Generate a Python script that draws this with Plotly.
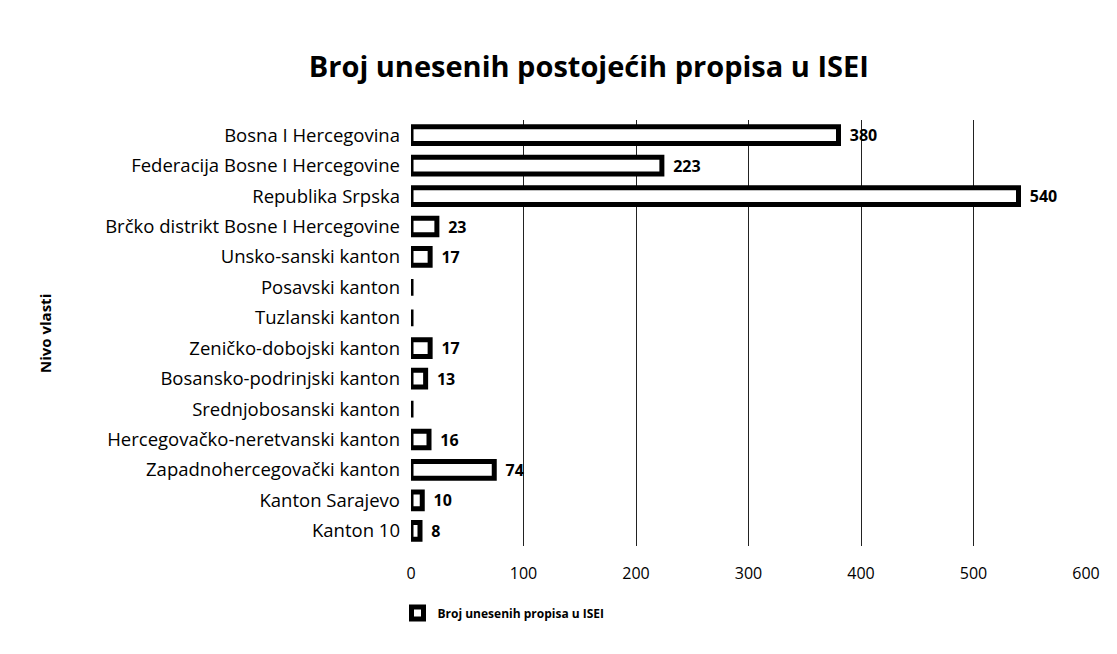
import plotly.graph_objects as go

categories = [
    "Bosna I Hercegovina",
    "Federacija Bosne I Hercegovine",
    "Republika Srpska",
    "Brčko distrikt Bosne I Hercegovine",
    "Unsko-sanski kanton",
    "Posavski kanton",
    "Tuzlanski kanton",
    "Zeničko-dobojski kanton",
    "Bosansko-podrinjski kanton",
    "Srednjobosanski kanton",
    "Hercegovačko-neretvanski kanton",
    "Zapadnohercegovački kanton",
    "Kanton Sarajevo",
    "Kanton 10",
]
values = [380, 223, 540, 23, 17, 0, 0, 17, 13, 0, 16, 74, 10, 8]
x_ticks = [0, 100, 200, 300, 400, 500, 600]

title_text = "Broj unesenih postojećih propisa u ISEI"
series_name = "Broj unesenih propisa u ISEI"
y_title = "Nivo vlasti"

labels = ["  " + str(v) if v else "" for v in values]

FONT = "Open Sans"

fig = go.Figure()
fig.add_trace(go.Bar(
    y=categories,
    x=values,
    orientation="h",
    name=series_name,
    marker=dict(color="white", line=dict(color="black", width=5)),
    text=labels,
    textposition="outside",
    constraintext="none",
    textfont=dict(family=FONT, size=16, color="black", weight="bold"),
    cliponaxis=False,
    showlegend=True,
))

fig.update_layout(
    width=1117,
    height=654,
    paper_bgcolor="white",
    plot_bgcolor="white",
    margin=dict(l=403, r=39, t=112, b=116),
    bargap=0.45,
    title=dict(
        text=title_text,
        font=dict(family=FONT, size=29, color="black", weight="bold"),
        x=0.52, xanchor="center", y=0.91, yanchor="middle",
    ),
    xaxis=dict(
        range=[0, 600],
        tickvals=x_ticks,
        showgrid=True,
        gridcolor="#222222",
        gridwidth=1,
        zeroline=False,
        showline=False,
        ticks="",
        ticklabelstandoff=16,
        tickfont=dict(family=FONT, size=16, color="black"),
    ),
    yaxis=dict(
        autorange="reversed",
        showgrid=False,
        showline=False,
        ticks="",
        ticklabelstandoff=10,
        tickfont=dict(family=FONT, size=18.5, color="black"),
    ),
    legend=dict(
        orientation="h",
        x=-0.02, xanchor="left",
        y=-0.157, yanchor="middle",
        font=dict(family=FONT, size=12, color="black", weight="bold"),
        itemwidth=30,
    ),
    annotations=[dict(
        text=y_title,
        xref="paper", yref="paper",
        x=-0.56, y=0.5,
        textangle=-90,
        showarrow=False,
        font=dict(family=FONT, size=15, color="black", weight="bold"),
    )],
)

fig.write_html("out.html")
